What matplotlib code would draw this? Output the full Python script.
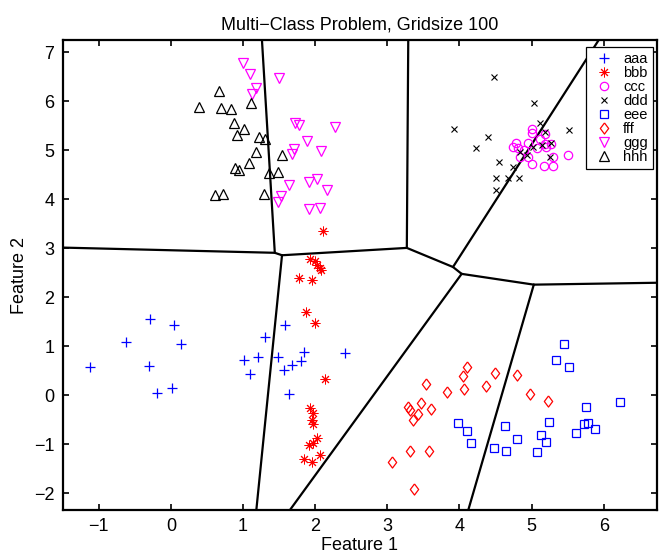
import numpy as np
import matplotlib
matplotlib.use("Agg")
import matplotlib.pyplot as plt

plt.rcParams['font.family'] = ['Liberation Sans', 'DejaVu Sans']

# class scatter data
aaa_x = [-1.12, -0.62, -0.29, 0.04, 0.14, -0.31, -0.19, 0.01, 1.01, 1.10,
         1.21, 1.30, 1.58, 1.48, 1.68, 1.57, 1.81, 1.84, 1.63, 2.41]
aaa_y = [0.57, 1.08, 1.56, 1.43, 1.04, 0.60, 0.05, 0.16, 0.72, 0.43,
         0.78, 1.19, 1.43, 0.78, 0.63, 0.52, 0.70, 0.88, 0.02, 0.86]

bbb_x = [2.11, 1.93, 2.00, 2.03, 2.06, 2.08, 1.78, 1.95, 1.87, 2.00, 2.14,
         1.93, 1.97, 1.95, 1.97, 2.03, 1.97, 1.91, 2.07, 1.84, 1.96]
bbb_y = [3.35, 2.78, 2.75, 2.67, 2.60, 2.55, 2.39, 2.35, 1.71, 1.48, 0.34,
         -0.25, -0.37, -0.50, -0.59, -0.88, -0.97, -1.01, -1.22, -1.30, -1.36]

ccc_x = [5.01, 5.01, 5.18, 4.78, 4.95, 4.74, 4.81, 5.19, 5.27, 5.20,
         4.84, 4.95, 5.00, 5.17, 5.30, 5.30, 5.51, 5.07, 4.89, 5.11]
ccc_y = [5.43, 5.35, 5.33, 5.16, 5.16, 5.06, 5.04, 5.14, 5.14, 5.06,
         4.87, 4.87, 4.73, 4.69, 4.69, 4.87, 4.90, 5.04, 5.01, 5.24]

ddd_x = [4.48, 5.03, 3.92, 4.40, 4.23, 5.11, 5.52, 4.55, 4.50, 4.67,
         4.83, 4.51, 4.74, 4.84, 5.02, 5.14, 5.27, 5.26, 4.93, 5.18]
ddd_y = [6.49, 5.96, 5.43, 5.27, 5.04, 5.55, 5.41, 4.77, 4.44, 4.44,
         4.44, 4.19, 4.67, 4.97, 5.07, 5.11, 5.15, 4.87, 4.90, 5.38]

eee_x = [5.45, 5.34, 5.52, 6.22, 5.76, 3.98, 4.11, 4.16, 4.63, 4.80,
         4.48, 4.64, 5.24, 5.13, 5.20, 5.07, 5.62, 5.73, 5.78, 5.88]
eee_y = [1.05, 0.73, 0.58, -0.13, -0.23, -0.56, -0.72, -0.97, -0.62, -0.90,
         -1.07, -1.13, -0.54, -0.80, -0.95, -1.16, -0.76, -0.59, -0.56, -0.69]

fff_x = [4.11, 4.05, 4.06, 4.49, 4.37, 4.80, 3.53, 3.82, 4.98, 5.22,
         3.46, 3.61, 3.29, 3.31, 3.42, 3.36, 3.31, 3.58, 3.07, 3.37]
fff_y = [0.58, 0.39, 0.12, 0.46, 0.20, 0.41, 0.24, 0.07, 0.03, -0.11,
         -0.16, -0.27, -0.24, -0.30, -0.38, -0.50, -1.14, -1.13, -1.35, -1.91]

ggg_x = [1.00, 1.09, 1.50, 1.18, 1.12, 1.72, 1.77, 2.28, 1.89, 1.70,
         1.68, 2.08, 2.03, 1.92, 1.63, 2.16, 1.52, 1.49, 1.91, 2.06]
ggg_y = [6.79, 6.55, 6.48, 6.27, 6.16, 5.56, 5.52, 5.48, 5.19, 5.03,
         4.92, 4.98, 4.42, 4.36, 4.29, 4.19, 4.07, 3.94, 3.80, 3.82]

hhh_x = [0.67, 0.39, 0.69, 0.83, 1.11, 0.87, 1.01, 0.92, 1.22, 1.31,
         1.18, 1.54, 1.08, 0.89, 0.94, 1.36, 1.49, 1.29, 0.61, 0.72]
hhh_y = [6.21, 5.88, 5.86, 5.84, 5.96, 5.55, 5.43, 5.31, 5.28, 5.24,
         4.97, 4.90, 4.75, 4.65, 4.60, 4.54, 4.55, 4.12, 4.09, 4.11]

labels = ['aaa', 'bbb', 'ccc', 'ddd', 'eee', 'fff', 'ggg', 'hhh']

# decision boundary: nodes and the edges between them
node_x = [-1.60, 1.44, 1.26, 1.54, 1.18, 3.27, 3.29, 3.91, 5.95, 4.03, 1.62, 5.03, 6.80, 4.11]
node_y = [3.02, 2.91, 7.30, 2.86, -2.40, 3.01, 7.30, 2.62, 7.30, 2.48, -2.40, 2.26, 2.30, -2.40]
edges = [(0, 1), (2, 1), (1, 3), (3, 4), (3, 5), (5, 6), (5, 7), (7, 8),
         (7, 9), (9, 10), (9, 11), (11, 12), (11, 13)]

fig = plt.figure(figsize=(6.62, 5.58), dpi=100)
ax = fig.add_axes([0.0947, 0.086, 0.898, 0.842])

diamond = [(0, 1), (0.75, 0), (0, -1), (-0.75, 0), (0, 1)]
styles = [
    (aaa_x, aaa_y, dict(marker='+', color='#0000ff', ms=6.5, mew=0.9)),
    (bbb_x, bbb_y, dict(marker=(8, 2, 0), color='#ff0000', ms=7, mew=0.7)),
    (ccc_x, ccc_y, dict(marker='o', mfc='none', mec='#ff00ff', ms=6, mew=0.9)),
    (ddd_x, ddd_y, dict(marker='x', color='black', ms=4.5, mew=0.8)),
    (eee_x, eee_y, dict(marker='s', mfc='none', mec='#0000ff', ms=5.3, mew=0.9)),
    (fff_x, fff_y, dict(marker=diamond, mfc='none', mec='#ff0000', ms=8, mew=0.9)),
    (ggg_x, ggg_y, dict(marker='v', mfc='none', mec='#ff00ff', ms=7, mew=0.9)),
    (hhh_x, hhh_y, dict(marker='^', mfc='none', mec='black', ms=7, mew=0.9)),
]
for (xs, ys, st), lab in zip(styles, labels):
    ax.plot(xs, ys, linestyle='none', label=lab, **st)

for i, j in edges:
    ax.plot([node_x[i], node_x[j]], [node_y[i], node_y[j]], color='black', lw=1.6,
            solid_capstyle='round', zorder=1)

ax.set_xlim(-1.5, 6.74)
ax.set_ylim(-2.34, 7.25)
ax.set_xticks(np.arange(-1, 7))
ax.set_yticks(np.arange(-2, 8))
ax.set_xticklabels(['\u22121', '0', '1', '2', '3', '4', '5', '6'])
ax.set_yticklabels(['\u22122', '\u22121', '0', '1', '2', '3', '4', '5', '6', '7'])
ax.tick_params(direction='in', length=4, width=1.2, top=True, right=True,
               labelsize=13, pad=6)
for s in ax.spines.values():
    s.set_linewidth(1.6)

ax.set_title('Multi\u2212Class Problem, Gridsize 100', fontsize=13, pad=8)
ax.set_xlabel('Feature 1', fontsize=13, labelpad=1)
ax.set_ylabel('Feature 2', fontsize=13, labelpad=4)

leg = ax.legend(loc='upper right', bbox_to_anchor=(0.993, 0.985), fontsize=10.5,
                frameon=True, fancybox=False, edgecolor='black', framealpha=1,
                handlelength=1.75, handletextpad=0.45, labelspacing=0.0,
                borderpad=0.35, borderaxespad=0, numpoints=1)
leg.get_frame().set_linewidth(0.9)

fig.savefig('out.png', dpi=100)
